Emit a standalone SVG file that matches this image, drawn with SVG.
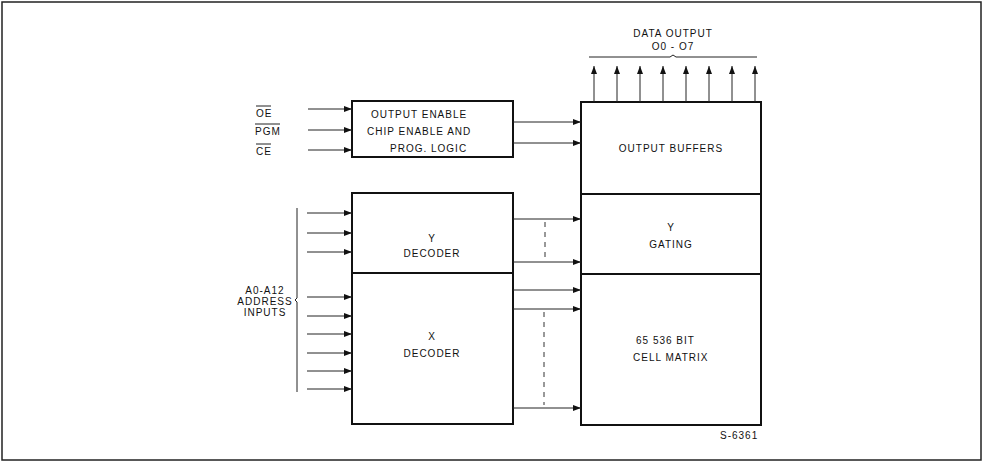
<svg xmlns="http://www.w3.org/2000/svg" width="984" height="464" viewBox="0 0 984 464">
<style>
.box{fill:#fff;stroke:#111;stroke-width:2}
.ln{stroke:#222;stroke-width:1;fill:none}
.dash{stroke:#333;stroke-width:1;fill:none;stroke-dasharray:5 5}
text{font-family:"Liberation Sans","DejaVu Sans",sans-serif;font-size:10px;fill:#111;letter-spacing:1px}
.c{text-anchor:middle}
</style>
<defs>
<marker id="ah" viewBox="0 0 8 6" refX="8" refY="3" markerWidth="8" markerHeight="6" markerUnits="userSpaceOnUse" orient="auto">
<path d="M0,0 L8,3 L0,6 Z" fill="#111"/>
</marker>
</defs>
<rect x="2" y="2" width="979" height="458" fill="#fff" stroke="#222" stroke-width="1.5"/>

<g id="oe-label">
<text x="256" y="117">OE</text><line x1="256" y1="106" x2="271" y2="106" class="ln"/>
<text x="255" y="135">PGM</text><line x1="255" y1="124" x2="280" y2="124" class="ln"/>
<text x="256" y="155">CE</text><line x1="256" y1="144" x2="271" y2="144" class="ln"/>
</g>

<g id="output-enable">
<rect class="box" x="352" y="101" width="161" height="56"/>
<text x="371" y="118">OUTPUT ENABLE</text>
<text x="367" y="135">CHIP ENABLE  AND</text>
<text x="390" y="152">PROG. LOGIC</text>
</g>

<g id="output-buffers">
<rect class="box" x="581" y="102" width="180" height="92"/>
<text class="c" x="671" y="152">OUTPUT  BUFFERS</text>
</g>

<g id="y-gating">
<rect class="box" x="581" y="194" width="180" height="80"/>
<text class="c" x="671" y="231">Y</text>
<text class="c" x="671" y="248">GATING</text>
</g>

<g id="cell-matrix">
<rect class="box" x="581" y="274" width="180" height="151"/>
<text x="636" y="344">65 536 BIT</text>
<text x="633" y="361">CELL  MATRIX</text>
</g>

<g id="y-decoder">
<rect class="box" x="352" y="193" width="161" height="80"/>
<text class="c" x="432" y="242">Y</text>
<text class="c" x="432" y="257">DECODER</text>
</g>

<g id="x-decoder">
<rect class="box" x="352" y="273" width="161" height="151"/>
<text class="c" x="432" y="340">X</text>
<text class="c" x="432" y="357">DECODER</text>
</g>

<g id="address-label">
<text class="c" x="265" y="294">A0-A12</text>
<text class="c" x="265" y="305">ADDRESS</text>
<text class="c" x="265" y="316">INPUTS</text>
<path class="ln" d="M297,208 V298 L295,300 L297,302 V392"/>
</g>

<g id="data-output-label">
<text class="c" x="673" y="37">DATA OUTPUT</text>
<text class="c" x="673" y="50">O0 - O7</text>
<path class="ln" d="M589,57 H670 L673,55 L676,57 H757"/>
</g>

<g id="s-label">
<text x="720" y="439">S-6361</text>
</g>

<g id="connectors">
<line class="ln" x1="308" y1="109" x2="352" y2="109" marker-end="url(#ah)"/>
<line class="ln" x1="308" y1="130" x2="352" y2="130" marker-end="url(#ah)"/>
<line class="ln" x1="308" y1="150" x2="352" y2="150" marker-end="url(#ah)"/>
<line class="ln" x1="513" y1="122" x2="581" y2="122" marker-end="url(#ah)"/>
<line class="ln" x1="513" y1="143" x2="581" y2="143" marker-end="url(#ah)"/>

<line class="ln" x1="594" y1="102" x2="594" y2="66" marker-end="url(#ah)"/>
<line class="ln" x1="617" y1="102" x2="617" y2="66" marker-end="url(#ah)"/>
<line class="ln" x1="640" y1="102" x2="640" y2="66" marker-end="url(#ah)"/>
<line class="ln" x1="663" y1="102" x2="663" y2="66" marker-end="url(#ah)"/>
<line class="ln" x1="686" y1="102" x2="686" y2="66" marker-end="url(#ah)"/>
<line class="ln" x1="709" y1="102" x2="709" y2="66" marker-end="url(#ah)"/>
<line class="ln" x1="732" y1="102" x2="732" y2="66" marker-end="url(#ah)"/>
<line class="ln" x1="755" y1="102" x2="755" y2="66" marker-end="url(#ah)"/>

<line class="ln" x1="307" y1="213" x2="352" y2="213" marker-end="url(#ah)"/>
<line class="ln" x1="307" y1="233" x2="352" y2="233" marker-end="url(#ah)"/>
<line class="ln" x1="307" y1="252" x2="352" y2="252" marker-end="url(#ah)"/>
<line class="ln" x1="307" y1="297" x2="352" y2="297" marker-end="url(#ah)"/>
<line class="ln" x1="307" y1="316" x2="352" y2="316" marker-end="url(#ah)"/>
<line class="ln" x1="307" y1="334" x2="352" y2="334" marker-end="url(#ah)"/>
<line class="ln" x1="307" y1="353" x2="352" y2="353" marker-end="url(#ah)"/>
<line class="ln" x1="307" y1="371" x2="352" y2="371" marker-end="url(#ah)"/>
<line class="ln" x1="307" y1="389" x2="352" y2="389" marker-end="url(#ah)"/>

<line class="ln" x1="513" y1="219" x2="581" y2="219" marker-end="url(#ah)"/>
<line class="ln" x1="513" y1="262" x2="581" y2="262" marker-end="url(#ah)"/>
<line class="dash" x1="545" y1="222" x2="545" y2="259"/>
<line class="ln" x1="513" y1="290" x2="581" y2="290" marker-end="url(#ah)"/>
<line class="ln" x1="513" y1="309" x2="581" y2="309" marker-end="url(#ah)"/>
<line class="ln" x1="513" y1="408" x2="581" y2="408" marker-end="url(#ah)"/>
<line class="dash" x1="544" y1="312" x2="544" y2="405"/>
</g>
</svg>
